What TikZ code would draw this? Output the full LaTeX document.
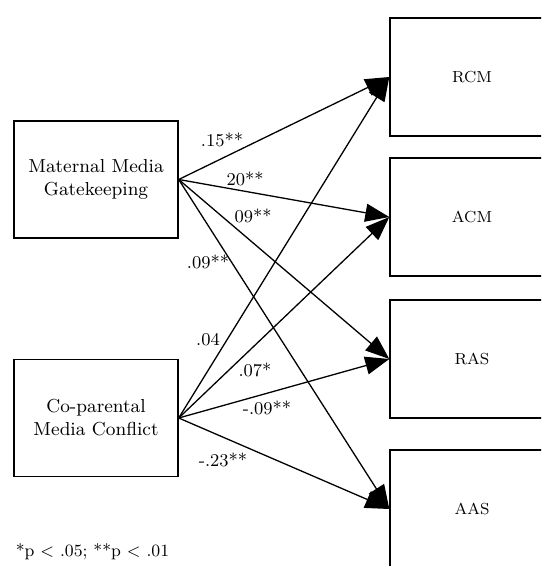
\documentclass[tikz,border=0pt]{standalone}
\usetikzlibrary{arrows.meta}
\begin{document}
\begin{tikzpicture}[x=5pt, y=-5pt,
  varbox/.style={draw, line width=0.7pt, rectangle, align=center, minimum width=82pt, minimum height=58.5pt, inner sep=0pt, font=\fontsize{9.4}{11.5}\selectfont},
  outbox/.style={draw, line width=0.7pt, rectangle, minimum width=82pt, minimum height=59pt, inner sep=0pt, font=\fontsize{8}{9}\selectfont},
  coef/.style={inner sep=0pt, font=\fontsize{9}{10}\selectfont},
  link/.style={line width=0.65pt, -{Triangle[length=12pt, width=9pt]}}]
\useasboundingbox (0,0) rectangle (54.1,56.6);
\clip (0,0) rectangle (54.1,56.6);
\node[varbox] (mmg) at (9.6,17.95){Maternal Media\\Gatekeeping};
\node[varbox] (cmc) at (9.6,41.8){Co-parental\\Media Conflict};
\node[outbox] (rcm) at (47.2,7.7){RCM};
\node[outbox] (acm) at (47.2,21.7){ACM};
\node[outbox] (ras) at (47.2,35.9){RAS};
\node[outbox] (aas) at (47.2,50.9){AAS};
\draw[link](mmg.east) -- (rcm.west);
\draw[link](mmg.east) -- (acm.west);
\draw[link](mmg.east) -- (ras.west);
\draw[link](mmg.east) -- (aas.west);
\draw[link](cmc.east) -- (rcm.west);
\draw[link](cmc.east) -- (acm.west);
\draw[link](cmc.east) -- (ras.west);
\draw[link](cmc.east) -- (aas.west);
\node[coef] (c15) at (22.2,14.0){.15**};
\node[coef] (c20) at (24.5,17.9){20**};
\node[coef] (c09a) at (25.3,21.6){09**};
\node[coef] (c09b) at (20.8,26.2){.09**};
\node[coef] (c04) at (20.8,34.0){.04};
\node[coef] (c07) at (25.5,37.0){.07*};
\node[coef] (c09c) at (26.7,40.8){-.09**};
\node[coef] (c23) at (22.3,46.0){-.23**};
\node[inner sep=0pt, font=\fontsize{8.6}{10}\selectfont] (note) at (9.25,55.2){*p \textless{} .05; **p \textless{} .01};
\end{tikzpicture}
\end{document}
